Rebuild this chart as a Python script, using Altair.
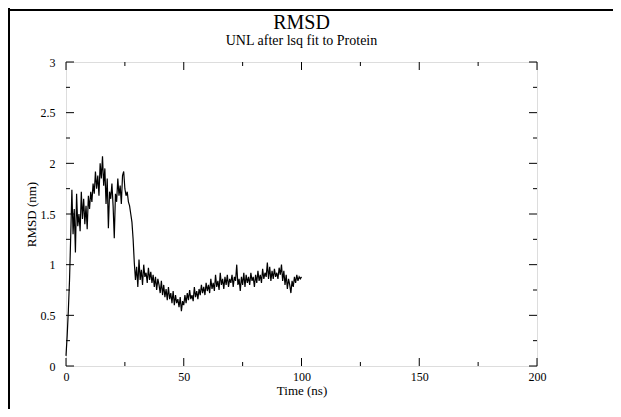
import altair as alt
import pandas as pd

# time axis (ns), 0.5 ns sampling
time_ns = [i * 0.5 for i in range(201)]

rmsd_nm = [
    0.10, 0.30, 0.55, 0.85, 1.28, 1.74, 1.30, 1.55, 1.12, 1.70,
    1.38, 1.50, 1.33, 1.72, 1.45, 1.65, 1.40, 1.58, 1.35, 1.68,
    1.55, 1.72, 1.62, 1.80, 1.70, 1.92, 1.75, 1.88, 1.68, 2.00,
    1.85, 2.07, 1.78, 1.95, 1.60, 1.85, 1.36, 1.72, 1.65, 1.80,
    1.58, 1.26, 1.70, 1.62, 1.85, 1.68, 1.78, 1.60, 1.88, 1.92,
    1.75, 1.68, 1.72, 1.62, 1.58, 1.50, 1.42, 1.25, 1.02, 0.85,
    0.98, 0.78, 1.05, 0.85, 0.95, 0.80, 1.00, 0.88, 0.92, 0.82,
    0.97, 0.85, 0.93, 0.82, 0.90, 0.78, 0.88, 0.75, 0.86, 0.80,
    0.72, 0.84, 0.70, 0.80, 0.68, 0.76, 0.65, 0.78, 0.66, 0.72,
    0.62, 0.74, 0.60, 0.70, 0.62, 0.66, 0.58, 0.68, 0.54, 0.64,
    0.60, 0.70, 0.62, 0.72, 0.65, 0.75, 0.66, 0.70, 0.64, 0.78,
    0.68, 0.74, 0.66, 0.76, 0.70, 0.80, 0.72, 0.78, 0.70, 0.82,
    0.74, 0.80, 0.72, 0.86, 0.76, 0.82, 0.74, 0.90, 0.78, 0.84,
    0.75, 0.92, 0.80, 0.86, 0.76, 0.88, 0.80, 0.90, 0.78, 0.86,
    0.82, 0.90, 0.78, 0.88, 0.84, 1.00, 0.80, 0.86, 0.74, 0.88,
    0.80, 0.92, 0.78, 0.90, 0.82, 0.88, 0.80, 0.92, 0.84, 0.88,
    0.78, 0.90, 0.82, 0.94, 0.84, 0.90, 0.82, 0.96, 0.86, 0.92,
    0.88, 1.02, 0.86, 0.98, 0.84, 0.94, 0.86, 0.96, 0.88, 0.92,
    0.86, 0.97, 0.90, 1.00, 0.84, 0.94, 0.80, 0.90, 0.76, 0.86,
    0.80, 0.72, 0.84, 0.78, 0.88, 0.82, 0.90, 0.84, 0.88, 0.86,
    0.88,
]

x_major = [0, 50, 100, 150, 200]
x_minor = [25, 75, 125, 175]
y_major = [0, 0.5, 1, 1.5, 2, 2.5, 3]
y_minor = [0.25, 0.75, 1.25, 1.75, 2.25, 2.75]

title_text = "RMSD"
subtitle_text = "UNL after lsq fit to Protein"
x_title = "Time (ns)"
y_title = "RMSD (nm)"

W, H = 471, 304
PAD = {"left": 58, "top": 54, "right": 76, "bottom": 43}
FONT = "Liberation Serif"

df = pd.DataFrame({"t": time_ns, "rmsd": rmsd_nm})

xs = alt.Scale(domain=[0, 200], nice=False, zero=False)
ys = alt.Scale(domain=[0, 3], nice=False, zero=False)

line = alt.Chart(df).mark_line(color="black", strokeWidth=1.2).encode(
    x=alt.X("t:Q", scale=xs, title=x_title,
            axis=alt.Axis(values=x_major, grid=False, ticks=False, tickSize=0, domain=False,
                          labelFlush=False, labelPadding=5, titlePadding=2, format="d",
                          labelFont=FONT, titleFont=FONT, labelFontSize=12, titleFontSize=13,
                          titleFontWeight="normal", labelColor="black", titleColor="black")),
    y=alt.Y("rmsd:Q", scale=ys, title=y_title,
            axis=alt.Axis(values=y_major, grid=False, ticks=False, tickSize=0, domain=False,
                          labelFlush=False, labelPadding=11, titlePadding=2, format="~g",
                          labelFont=FONT, titleFont=FONT, labelFontSize=12, titleFontSize=13,
                          titleFontWeight="normal", labelColor="black", titleColor="black")),
)


def xticks(vals, size):
    d = pd.DataFrame({"v": vals, "b": [0.0] * len(vals), "tp": [3.0] * len(vals)})
    bottom = alt.Chart(d).mark_rule(color="black", strokeWidth=1, y2Offset=-size).encode(
        x=alt.X("v:Q", scale=xs, title=x_title), y=alt.Y("b:Q", scale=ys, title=y_title), y2="b:Q")
    top = alt.Chart(d).mark_rule(color="black", strokeWidth=1, y2Offset=size).encode(
        x=alt.X("v:Q", scale=xs, title=x_title), y=alt.Y("tp:Q", scale=ys, title=y_title), y2="tp:Q")
    return [bottom, top]


def yticks(vals, size):
    d = pd.DataFrame({"v": vals, "l": [0.0] * len(vals), "r": [200.0] * len(vals)})
    left = alt.Chart(d).mark_rule(color="black", strokeWidth=1, x2Offset=size).encode(
        y=alt.Y("v:Q", scale=ys, title=y_title), x=alt.X("l:Q", scale=xs, title=x_title), x2="l:Q")
    right = alt.Chart(d).mark_rule(color="black", strokeWidth=1, x2Offset=-size).encode(
        y=alt.Y("v:Q", scale=ys, title=y_title), x=alt.X("r:Q", scale=xs, title=x_title), x2="r:Q")
    return [left, right]


ticks = xticks(x_major, 8) + xticks(x_minor, 4) + yticks(y_major, 8) + yticks(y_minor, 4)

# page (table cell) border lines
one = pd.DataFrame({"k": [0]})
border_top = alt.Chart(one).mark_rule(color="black", strokeWidth=2).encode(
    x=alt.value(-60), x2=alt.value(W + 80), y=alt.value(-52))
border_left = alt.Chart(one).mark_rule(color="black", strokeWidth=2).encode(
    x=alt.value(-57), y=alt.value(-64), y2=alt.value(H + 60))

# titles as text marks (so the border lines don't push them)
title_mark = alt.Chart(pd.DataFrame({"s": [title_text]})).mark_text(
    font=FONT, fontSize=20, color="black", baseline="alphabetic", align="center").encode(
    text="s:N", x=alt.value(W / 2), y=alt.value(-33))
subtitle_mark = alt.Chart(pd.DataFrame({"s": [subtitle_text]})).mark_text(
    font=FONT, fontSize=14, color="black", baseline="alphabetic", align="center").encode(
    text="s:N", x=alt.value(W / 2), y=alt.value(-17))

chart = alt.layer(line, *ticks, border_top, border_left, title_mark, subtitle_mark).properties(
    width=W, height=H,
    autosize=alt.AutoSizeParams(type="none"),
    padding=PAD,
).configure_view(stroke="black", strokeWidth=1.2).configure(background="white")

chart.save("out.html", embed_options={"renderer": "svg", "actions": False})
